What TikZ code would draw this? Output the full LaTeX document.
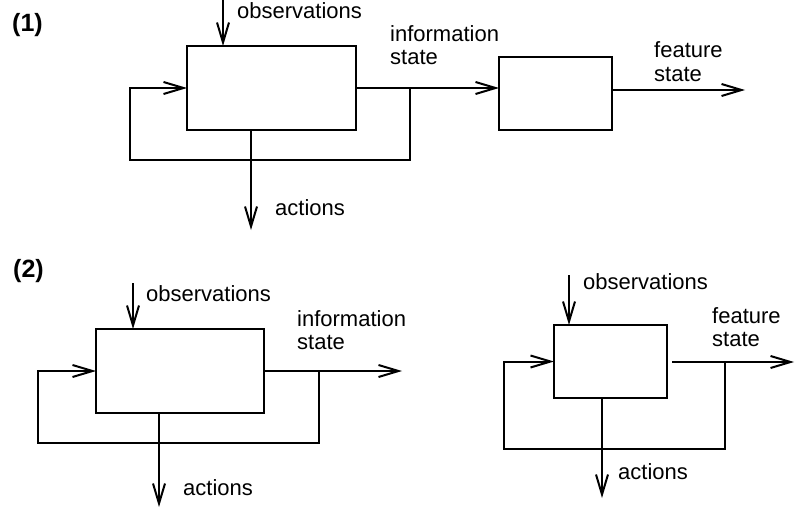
\documentclass[tikz,border=0pt]{standalone}
\usepackage{fontspec}
\setmainfont{Liberation Sans}
\usetikzlibrary{arrows.meta}
\tikzset{
  box/.style={draw, line width=2pt, inner sep=0pt, outer sep=0pt},
  arr/.style={line width=2pt, -{Straight Barb[length=20pt,width=12pt,line width=2pt]}},
  conn/.style={line width=2pt},
  lbl/.style={anchor=base west, inner sep=0pt, font=\fontsize{22}{23.3}\selectfont},
  tag/.style={anchor=base west, inner sep=0pt, font=\fontsize{25}{25}\selectfont\bfseries}
}
\newcommand{\twolines}[2]{\begin{tabular}[t]{@{}l@{}}#1\\#2\end{tabular}}
\begin{document}
\begin{tikzpicture}[x=1pt,y=-1pt]
\useasboundingbox (0,0) rectangle (796,519);

% ---------- (1) ----------
\node[tag] (tag1) at (12,31.5) {(1)};
\node[box, minimum width=169pt, minimum height=84pt] (A) at (271.5,88) {};
\node[box, minimum width=113pt, minimum height=73pt] (B) at (555.5,93.5) {};

\coordinate (o1) at (223,0);
\draw[arr] (o1) -- (o1 |- A.north);
\node[lbl] (obs1) at (237,19) {observations};

\draw[arr] (A.east) -- (A.east -| B.west);
\node[lbl] (inf1) at (390,41.7) {\twolines{information}{state}};

\coordinate (t1) at (410,88);
\coordinate (l1) at (130,160);
\draw[arr] (t1) |- (l1) |- (A.west);

\coordinate (c1) at (251,230);
\draw[arr] (c1 |- A.south) -- (c1);
\node[lbl] (act1) at (275,215) {actions};

\coordinate (f1) at (745,90);
\draw[arr] (B.east |- f1) -- (f1);
\node[lbl] (fea1) at (654,58) {\twolines{feature}{state}};

% ---------- (2) left ----------
\node[tag] (tag2) at (13,277) {(2)};
\node[box, minimum width=168pt, minimum height=84pt] (C) at (180,371) {};

\coordinate (o2) at (133,283);
\draw[arr] (o2) -- (o2 |- C.north);
\node[lbl] (obs2) at (146,301) {observations};

\coordinate (i2) at (402,371);
\draw[arr] (C.east) -- (i2);
\node[lbl] (inf2) at (297,326) {\twolines{information}{state}};

\coordinate (t2) at (319,371);
\coordinate (l2) at (38,443);
\draw[arr] (t2) |- (l2) |- (C.west);

\coordinate (c2) at (159,507);
\draw[arr] (c2 |- C.south) -- (c2);
\node[lbl] (act2) at (183,495) {actions};

% ---------- (2) right ----------
\node[box, minimum width=113pt, minimum height=73pt] (D) at (610.5,361.5) {};

\coordinate (o3) at (569,275);
\draw[arr] (o3) -- (o3 |- D.north);
\node[lbl] (obs3) at (583,289) {observations};

\coordinate (f3) at (794,362);
\draw[arr, shorten <=5pt] (D.east |- f3) -- (f3);
\node[lbl] (fea3) at (712,323) {\twolines{feature}{state}};

\coordinate (t3) at (725,362);
\coordinate (l3) at (504,449);
\draw[arr] (t3) |- (l3) |- (D.west);

\coordinate (c3) at (602,498);
\draw[arr] (c3 |- D.south) -- (c3);
\node[lbl] (act3) at (618,479) {actions};
\end{tikzpicture}
\end{document}
